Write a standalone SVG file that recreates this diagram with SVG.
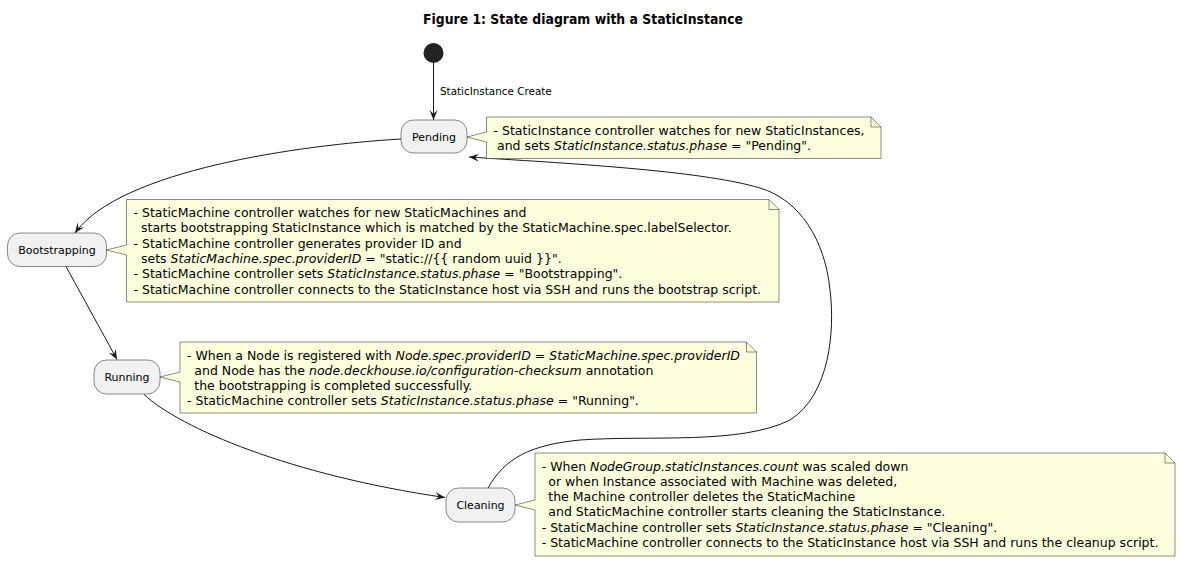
<svg xmlns="http://www.w3.org/2000/svg" width="1181" height="562" viewBox="0 0 1181 562">
<style>
.title{font-family:"DejaVu Sans",sans-serif;font-size:14px;font-weight:bold;fill:#000}
.state rect{fill:#F1F1F1;stroke:#181818;stroke-width:0.5}
.state text{font-family:"DejaVu Sans",sans-serif;font-size:11px;fill:#000;text-anchor:middle}
.note path.body{fill:#FEFFDD;stroke:#181818;stroke-width:0.5}
.note path.fold{fill:none;stroke:#181818;stroke-width:0.5}
.note text{font-family:"DejaVu Sans",sans-serif;font-size:12.5px;fill:#000}
.i{font-style:italic}
.conn path,.conn line{fill:none;stroke:#181818;stroke-width:1}
.elabel{font-family:"DejaVu Sans",sans-serif;font-size:10.4px;fill:#000}
</style>
<defs>
<marker id="ah" viewBox="-11 -5 12 10" refX="0" refY="0" markerWidth="12" markerHeight="10" markerUnits="userSpaceOnUse" orient="auto">
<path d="M0,0 L-10,-4 L-6,0 L-10,4 Z" fill="#181818"/>
</marker>
</defs>
<rect width="1181" height="562" fill="#FFFFFF"/>
<text class="title" x="583" y="24" text-anchor="middle" textLength="320" lengthAdjust="spacingAndGlyphs">Figure 1: State diagram with a StaticInstance</text>

<g id="connectors" class="conn">
<line x1="433.5" y1="63" x2="433.5" y2="120" marker-end="url(#ah)"/>
<path d="M401,139 C300,145 120,170 75,233" marker-end="url(#ah)"/>
<path d="M66,266.5 L117,359.5" marker-end="url(#ah)"/>
<path d="M144,394.5 C180,428 290,475 445,497.5" marker-end="url(#ah)"/>
<path d="M488,488 C505,458 530,445 580,440 C650,435 740,445 790,420 C830,395 835,330 830,290 C825,240 800,200 760,188 C700,170 560,163 469,157" marker-end="url(#ah)"/>
<text class="elabel" x="440" y="95">StaticInstance Create</text>
</g>

<g id="start">
<circle cx="433.5" cy="53" r="10" fill="#222222"/>
</g>

<g id="pending" class="state">
<rect x="401" y="120" width="66" height="33" rx="12.5" ry="12.5"/>
<text x="434" y="140.5">Pending</text>
</g>

<g id="bootstrapping" class="state">
<rect x="7.5" y="233" width="99" height="33.5" rx="12.5" ry="12.5"/>
<text x="57" y="254">Bootstrapping</text>
</g>

<g id="running" class="state">
<rect x="94" y="360" width="66" height="34" rx="12.5" ry="12.5"/>
<text x="127" y="381">Running</text>
</g>

<g id="cleaning" class="state">
<rect x="446" y="488" width="69" height="34" rx="12.5" ry="12.5"/>
<text x="480.5" y="509">Cleaning</text>
</g>

<g id="note-pending" class="note">
<path class="body" d="M486.5,117 L871,117 L881,127 L881,158.5 L486.5,158.5 L486.5,142 L467,137 L486.5,132 Z"/>
<path class="fold" d="M871,117 L871,127 L881,127"/>
<text x="493.5" y="134.5">- StaticInstance controller watches for new StaticInstances,</text>
<text x="497" y="149.8">and sets <tspan class="i">StaticInstance.status.phase</tspan> = "Pending".</text>
</g>

<g id="note-bootstrapping" class="note">
<path class="body" d="M126.5,199.5 L769,199.5 L779,209.5 L779,302 L126.5,302 L126.5,255 L106.5,250 L126.5,245 Z"/>
<path class="fold" d="M769,199.5 L769,209.5 L779,209.5"/>
<text x="133.5" y="217">- StaticMachine controller watches for new StaticMachines and</text>
<text x="141" y="232.3">starts bootstrapping StaticInstance which is matched by the StaticMachine.spec.labelSelector.</text>
<text x="133.5" y="247.6">- StaticMachine controller generates provider ID and</text>
<text x="141" y="262.9">sets <tspan class="i">StaticMachine.spec.providerID</tspan> = "static://{{ random uuid }}".</text>
<text x="133.5" y="278.2">- StaticMachine controller sets <tspan class="i">StaticInstance.status.phase</tspan> = "Bootstrapping".</text>
<text x="133.5" y="293.5">- StaticMachine controller connects to the StaticInstance host via SSH and runs the bootstrap script.</text>
</g>

<g id="note-running" class="note">
<path class="body" d="M180,342 L746.5,342 L756.5,352 L756.5,413 L180,413 L180,382 L160,377 L180,372 Z"/>
<path class="fold" d="M746.5,342 L746.5,352 L756.5,352"/>
<text x="187" y="359.5">- When a Node is registered with <tspan class="i">Node.spec.providerID</tspan> = <tspan class="i">StaticMachine.spec.providerID</tspan></text>
<text x="194.3" y="374.8">and Node has the <tspan class="i">node.deckhouse.io/configuration-checksum</tspan> annotation</text>
<text x="194.3" y="390.1">the bootstrapping is completed successfully.</text>
<text x="187" y="405.4">- StaticMachine controller sets <tspan class="i">StaticInstance.status.phase</tspan> = "Running".</text>
</g>

<g id="note-cleaning" class="note">
<path class="body" d="M535,453 L1165,453 L1175,463 L1175,556 L535,556 L535,510 L515,505 L535,500 Z"/>
<path class="fold" d="M1165,453 L1165,463 L1175,463"/>
<text x="541.7" y="470.5">- When <tspan class="i">NodeGroup.staticInstances.count</tspan> was scaled down</text>
<text x="548.3" y="485.8">or when Instance associated with Machine was deleted,</text>
<text x="548.3" y="501.1">the Machine controller deletes the StaticMachine</text>
<text x="548.3" y="516.4">and StaticMachine controller starts cleaning the StaticInstance.</text>
<text x="541.7" y="531.7">- StaticMachine controller sets <tspan class="i">StaticInstance.status.phase</tspan> = "Cleaning".</text>
<text x="541.7" y="547">- StaticMachine controller connects to the StaticInstance host via SSH and runs the cleanup script.</text>
</g>
</svg>
